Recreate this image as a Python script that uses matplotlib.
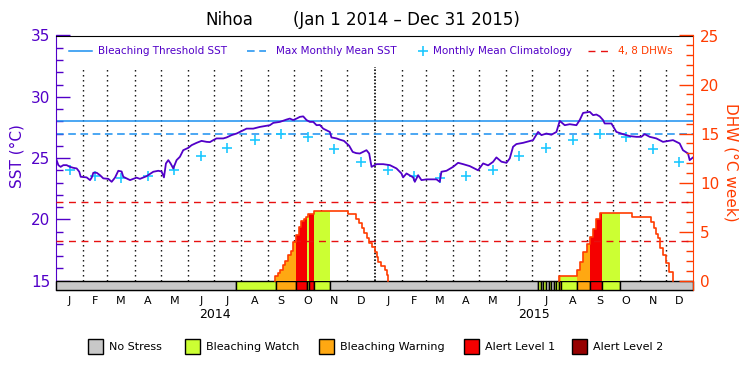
import numpy as np
import matplotlib.pyplot as plt
from matplotlib.lines import Line2D
from matplotlib.patches import Rectangle
from matplotlib.ticker import MultipleLocator

# ---- data (x = days since Jan 1 2014) ----
sst_day = [0, 2.7, 5.3, 8.4, 12.2, 16.0, 19.9, 23.7, 26.7, 28.3, 35.1, 39.0, 40.9, 42.8,
           46.6, 50.4, 54.2, 60.0, 63.8, 67.6, 71.4, 75.2, 77.1, 84.8, 88.6, 92.4, 96.2,
           103.8, 107.7, 111.5, 117.2, 121.0, 123.7, 126.0, 128.7, 131.3, 134.4, 138.2,
           142.0, 145.8, 151.6, 155.4, 161.1, 166.8, 172.6, 176.4, 180.2, 184.0, 191.7,
           195.5, 201.2, 207.0, 210.8, 218.4, 226.0, 233.7, 245.1, 249.0, 256.6, 264.2,
           268.0, 271.8, 275.7, 279.5, 283.3, 287.1, 290.9, 294.8, 298.6, 302.4, 306.2,
           313.8, 315.7, 321.5, 325.3, 330.0, 336.0, 340.0, 344.0,
           348.2, 352.0, 355.8, 358.9, 361.6, 367.3, 374.9, 382.6, 390.2, 395.9, 397.8,
           401.7, 409.3, 411.2, 415.0, 418.8, 424.6, 436.0, 439.8, 441.7, 447.5, 455.1,
           460.8, 466.6, 474.2, 483.7, 489.5, 495.2, 500.9, 504.7, 510.5, 516.2, 520.0,
           523.8, 527.6, 535.3, 546.7, 552.5, 556.3, 562.0, 567.7, 573.5, 577.3, 583.0,
           588.7, 596.4, 600.2, 604.0, 611.7, 615.5, 619.3, 623.1, 626.9, 628.8, 636.5,
           642.2, 649.8, 657.5, 665.1, 670.8, 674.6, 680.4, 688.0, 695.6, 707.1, 714.7,
           718.5, 724.3, 726.2, 730.0]
sst_val = [24.97, 24.42, 24.28, 24.42, 24.42, 24.28, 24.2, 24.15, 23.88, 23.47, 23.42, 23.2,
           23.4, 23.8, 23.8, 23.6, 23.34, 23.3, 23.06, 23.4, 23.96, 23.9, 23.47, 23.2, 23.3,
           23.4, 23.3, 23.52, 23.7, 23.88, 23.96, 23.9, 23.42, 24.56, 24.83, 24.56, 24.15,
           24.83, 25.1, 25.64, 25.83, 26.05, 26.24, 26.4, 26.32, 26.3, 26.46, 26.6, 26.6,
           26.68, 26.87, 27.0, 27.13, 27.4, 27.4, 27.54, 27.68, 27.87, 27.95, 28.14, 28.22,
           28.1, 28.22, 28.36, 28.4, 28.1, 27.95, 27.95, 27.68, 27.7, 27.4, 27.13, 26.68,
           26.6, 26.5, 26.4, 26.0, 25.5, 25.4,
           25.37, 25.5, 25.64, 25.37, 24.28, 24.5, 24.5, 24.42, 24.15, 23.74, 23.42, 23.74,
           23.42, 23.06, 23.6, 23.2, 23.26, 23.26, 23.06, 23.88, 23.96, 24.28, 24.61, 24.5,
           24.34, 24.0, 24.56, 24.4, 24.69, 25.05, 24.7, 24.61, 24.97, 25.92, 26.14, 26.24,
           26.46, 27.13, 26.87, 27.0, 26.9, 27.13, 28.03, 27.68, 27.76, 27.68, 28.1, 28.68,
           28.77, 28.5, 28.55, 28.4, 28.1, 27.82, 27.82, 27.13, 26.95, 26.79, 26.73, 26.73,
           26.95, 26.73, 26.6, 26.32, 26.46, 26.19, 25.64, 25.37, 24.83, 25.05]

clim_val = [24.0, 23.5, 23.4, 23.5, 24.0, 25.15, 25.85, 26.5, 27.0, 26.7, 25.7, 24.7]
threshold_sst = 28.0
mmm_sst = 27.0
dhw_lines = [4, 8]

dhw_day = [0, 251.2, 253.9, 256.9, 260.0, 263.0, 266.1, 268.8, 271.8, 274.9, 278.0, 280.6,
           283.7, 286.4, 289.0, 295.5, 334.1, 343.5, 347.5, 350.2, 353.2, 355.9, 358.9,
           362.7, 365.4, 367.3, 369.3, 372.0, 376.9, 378.8, 381.0, 576.6, 597.2, 600.2,
           604.0, 608.6, 611.7, 615.5, 619.3, 623.1, 660.6, 682.3, 685.0, 688.0, 690.0,
           692.7, 695.7, 698.7, 702.5, 707.0]
dhw_val = [0, 0.47, 0.74, 1.08, 1.56, 2.03, 2.58, 3.02, 3.96, 4.6, 5.5, 6.1, 6.3, 6.45,
           6.78, 7.13, 6.79, 6.31, 5.84, 5.33, 4.82, 4.31, 3.86, 3.39, 2.95, 2.44, 1.93,
           1.49, 1.08, 0.57, 0, 0.47, 1.05, 1.93, 2.88, 3.7, 4.48, 5.23, 6.25, 6.92, 6.52,
           6.0, 5.33, 4.8, 4.31, 3.36, 2.61, 1.76, 0.91, 0]

# stress level: 0 none, 1 watch, 2 warning, 3 alert 1, 4 alert 2
stress_start = [0, 205.8, 251.6, 274.9, 287.2, 289.8, 295.9, 313.9, 552.5, 555.5, 558.5,
                561.5, 564.5, 567.5, 570.5, 573.5, 576.6, 579.3, 597.6, 611.7, 625.8, 646.0]
stress_level = [0, 1, 2, 3, 1, 3, 1, 0, 1, 0, 1, 0, 1, 0, 1, 1, 2, 1, 2, 3, 1, 0]
stress_names = ["No Stress", "Bleaching Watch", "Bleaching Warning", "Alert Level 1", "Alert Level 2"]
stress_colors = ["#c8c8c8", "#ccff33", "#ffa812", "#f50000", "#960000"]

month_letters = list("JFMAMJJASOND") * 2
years = ["2014", "2015"]

purple = "#5200c8"
orange = "#ff3c00"
thr_col = "#1a90f0"
clim_col = "#1ec8ff"
dhw_dash = "#e81010"

# month geometry from the calendar
ms = np.arange("2014-01", "2016-02", dtype="datetime64[M]").astype("datetime64[D]")
month_start = (ms - np.datetime64("2014-01-01")).astype(int)
mid_month = (month_start[:-1] + month_start[1:]) / 2.0
stress_end = stress_start[1:] + [730]

y0 = 14.23
fig = plt.figure(figsize=(7.5, 3.75), dpi=100)
ax = fig.add_axes([56 / 750, 85 / 375, 637 / 750, 254.5 / 375])
ax.set_xlim(0, 730)
ax.set_ylim(y0, 35)
ax2 = ax.twinx()
ax2.set_ylim((y0 - 15) * 1.25, 25)

# month dividers
inner = [m for m in month_start[1:-1] if m != 365]
ax.vlines(inner, 15, 32.4, colors="k", linestyles=(0, (1, 2.6)), lw=1)
ax.vlines([365], 15, 32.4, colors="k", linestyles=(0, (1, 1)), lw=1.2)

ax.axhline(threshold_sst, color=thr_col, lw=1.1)
ax.axhline(mmm_sst, color=thr_col, lw=1.1, dashes=(5, 3))
ax.plot(mid_month, clim_val * 2, ls="none", marker="+", ms=7, mew=1.2, color=clim_col)
ax.plot(sst_day, sst_val, color=purple, lw=1.3)

# stress bar along the bottom
ax.bar(stress_start, 15 - y0, width=np.array(stress_end) - np.array(stress_start), bottom=y0,
       align="edge", color=[stress_colors[l] for l in stress_level],
       edgecolor="k", lw=1, clip_on=False, zorder=3)

# DHW: coloured fills and step line
for d in dhw_lines:
    ax2.axhline(d, color=dhw_dash, lw=1, dashes=(5, 4))


def dhw_at(t):
    i = np.searchsorted(dhw_day, t, side="right") - 1
    return dhw_val[i]


for a, b, lev in zip(stress_start, stress_end, stress_level):
    if lev == 0:
        continue
    xs = [a] + [d for d in dhw_day if a < d < b] + [b]
    ys = [dhw_at(x) for x in xs]
    ax2.fill_between(xs, 0, ys, step="post", color=stress_colors[lev], lw=0)

run_x, run_y = [], []
for d, v in zip(dhw_day, dhw_val):
    if v > 0:
        if not run_x:
            run_x, run_y = [d], [0]
        run_x.append(d)
        run_y.append(v)
    elif run_x:
        run_x.append(d)
        run_y.append(0)
        ax2.plot(run_x, run_y, drawstyle="steps-post", color=orange, lw=1.2)
        run_x, run_y = [], []

# axes styling
ax.spines["right"].set_visible(False)
ax.spines["left"].set_color(purple)
ax.spines["top"].set_color("k")
ax.spines["bottom"].set_color("k")
for s in ["left", "top", "bottom"]:
    ax2.spines[s].set_visible(False)
ax2.spines["right"].set_color(orange)

ax.yaxis.set_major_locator(MultipleLocator(5))
ax.yaxis.set_minor_locator(MultipleLocator(1))
ax.tick_params(axis="y", which="both", direction="in", colors=purple, labelsize=11, pad=4, width=1)
ax.tick_params(axis="y", which="major", length=10)
ax.tick_params(axis="y", which="minor", length=5)
ax2.yaxis.set_major_locator(MultipleLocator(5))
ax2.yaxis.set_minor_locator(MultipleLocator(1))
ax2.tick_params(axis="y", which="both", direction="in", colors=orange, labelsize=11, pad=5, width=1)
ax2.tick_params(axis="y", which="major", length=10)
ax2.tick_params(axis="y", which="minor", length=5)

ax.set_xticks(mid_month)
ax.set_xticklabels(month_letters, fontsize=8)
ax.tick_params(axis="x", length=0, pad=4)
xt = ax.get_xaxis_transform()
for i, yr in enumerate(years):
    ax.text(182.5 + 365 * i, -0.098, yr, transform=xt, ha="center", va="center", fontsize=9)

# titles and labels
fig.text(205 / 750, 1 - 20 / 375, "Nihoa", fontsize=12, va="center")
fig.text(293 / 750, 1 - 20 / 375, "(Jan 1 2014 \u2013 Dec 31 2015)", fontsize=12, va="center")
fig.text(17.5 / 750, 1 - 156 / 375, "SST (\u00b0C)", rotation=90, color=purple, fontsize=11,
         ha="center", va="center")
fig.text(731 / 750, 1 - 162 / 375, "DHW (\u00b0C week)", rotation=270, color=orange, fontsize=11,
         ha="center", va="center")

# top legend
ly = 1 - 51 / 375
fig.add_artist(Line2D([69 / 750, 92 / 750], [ly, ly], color=thr_col, lw=1.1))
fig.text(98 / 750, ly, "Bleaching Threshold SST", color=purple, fontsize=7.5, va="center")
fig.add_artist(Line2D([247 / 750, 266 / 750], [ly, ly], color=thr_col, lw=1.1, dashes=(5, 3)))
fig.text(276 / 750, ly, "Max Monthly Mean SST", color=purple, fontsize=7.5, va="center")
fig.add_artist(Line2D([422.5 / 750], [ly], color=clim_col, marker="+", ms=7, mew=1.2, ls="none"))
fig.text(433 / 750, ly, "Monthly Mean Climatology", color=purple, fontsize=7.5, va="center")
fig.add_artist(Line2D([588 / 750, 612 / 750], [ly, ly], color=dhw_dash, lw=1, dashes=(5, 4)))
fig.text(618 / 750, ly, "4, 8 DHWs", color=orange, fontsize=7.5, va="center")

# bottom legend
box_left = [88, 185, 319, 464, 572]
for xl, name, col in zip(box_left, stress_names, stress_colors):
    fig.add_artist(Rectangle((xl / 750, 1 - 354 / 375), 15 / 750, 15 / 375,
                             facecolor=col, edgecolor="k", lw=1, transform=fig.transFigure))
    fig.text((xl + 21) / 750, 1 - 346.5 / 375, name, fontsize=8, va="center")

fig.savefig("out.png", dpi=100)
